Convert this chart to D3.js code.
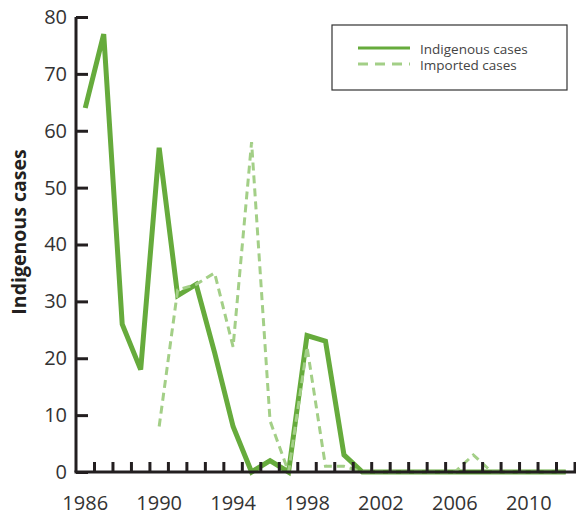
<!DOCTYPE html>
<html>
<head>
<meta charset="utf-8">
<script src="https://cdn.jsdelivr.net/npm/d3@7"></script>
<style>
  body { margin: 0; background: #fff; }
  text { font-family: 'Open Sans', 'Noto Sans', sans-serif; }
</style>
</head>
<body>
<div id="chart"></div>
<script>
let years = d3.range(1986, 2013);
let yearLabels = [1986, 1990, 1994, 1998, 2002, 2006, 2010];
let yTicks = [0, 10, 20, 30, 40, 50, 60, 70, 80];

// 1986 .. 2012
let indigenous = [64, 77, 26, 18, 57, 31, 33, 21, 8, 0, 2, 0, 24, 23, 3, 0,
  0, 0, 0, 0, 0, 0, 0, 0, 0, 0, 0];
// imported starts in 1990
let importedYears = d3.range(1990, 2013);
let imported = [8, 32, 33, 35, 22, 58, 9, 0, 22, 1, 1, 0,
  0, 0, 0, 0, 0, 3, 0, 0, 0, 0, 0];

let width = 576;
let height = 515;
let margin = {top: 17, right: 1, bottom: 43, left: 76};

let solidColor = '#66ab3c';
let dashColor = '#a3cf87';

let svg = d3.select('#chart').append('svg')
    .attr('width', width)
    .attr('height', height);

let x = d3.scaleBand()
    .domain(years)
    .range([margin.left, width - margin.right])
    .padding(0);

let y = d3.scaleLinear()
    .domain([0, 80])
    .range([height - margin.bottom, margin.top]);

let cx = function(yr) { return x(yr) + x.bandwidth() / 2; };

// lines
let line = d3.line()
    .x(function(d) { return cx(d[0]); })
    .y(function(d) { return y(d[1]); });

let indData = years.map(function(yr, i) { return [yr, indigenous[i]]; });
let impData = importedYears.map(function(yr, i) { return [yr, imported[i]]; });

svg.append('path')
    .datum(indData)
    .attr('d', line)
    .attr('fill', 'none')
    .attr('stroke', solidColor)
    .attr('stroke-width', 5)
    .attr('stroke-linejoin', 'miter');

svg.append('path')
    .datum(impData)
    .attr('d', line)
    .attr('fill', 'none')
    .attr('stroke', dashColor)
    .attr('stroke-width', 3)
    .attr('stroke-dasharray', '8,5');

// y axis
let yAxis = svg.append('g')
    .attr('transform', 'translate(' + margin.left + ',0)')
    .call(d3.axisLeft(y).tickValues(yTicks).tickSize(-12).tickPadding(9));
yAxis.select('.domain').attr('stroke', '#231f20').attr('stroke-width', 3)
    .attr('d', 'M0,' + y(80) + 'V' + y(0));
yAxis.selectAll('.tick line').attr('stroke', '#231f20').attr('stroke-width', 3);
yAxis.selectAll('.tick text')
    .attr('fill', '#333')
    .style('font-size', '20px');

// x axis: ticks at the category boundaries
let xAxisY = y(0);
let boundaries = years.map(function(yr) { return x(yr) + x.bandwidth(); });

let xg = svg.append('g');
xg.append('line')
    .attr('x1', margin.left - 1.5)
    .attr('x2', width)
    .attr('y1', xAxisY)
    .attr('y2', xAxisY)
    .attr('stroke', '#231f20')
    .attr('stroke-width', 3);
xg.selectAll('.xtick')
  .data(boundaries)
  .enter().append('line')
    .attr('class', 'xtick')
    .attr('x1', function(d) { return d; })
    .attr('x2', function(d) { return d; })
    .attr('y1', xAxisY)
    .attr('y2', xAxisY - 10)
    .attr('stroke', '#231f20')
    .attr('stroke-width', 3);

xg.selectAll('.xlabel')
  .data(yearLabels)
  .enter().append('text')
    .attr('class', 'xlabel')
    .attr('x', function(d) { return cx(d); })
    .attr('y', 510)
    .attr('text-anchor', 'middle')
    .attr('fill', '#333')
    .style('font-size', '20px')
    .text(function(d) { return d; });

// y axis title
svg.append('text')
    .attr('transform', 'translate(26,' + 232 + ') rotate(-90)')
    .attr('text-anchor', 'middle')
    .attr('fill', '#231f20')
    .style('font-size', '19.5px')
    .style('font-weight', 'bold')
    .text('Indigenous cases');

// legend
let legend = svg.append('g');
legend.append('rect')
    .attr('x', 332)
    .attr('y', 25)
    .attr('width', 235)
    .attr('height', 65)
    .attr('fill', '#fff')
    .attr('stroke', '#333')
    .attr('stroke-width', 1.2);

let legendItems = [
  {label: 'Indigenous cases', color: solidColor, dash: null},
  {label: 'Imported cases', color: dashColor, dash: '10,7'}
];

legendItems.forEach(function(item, i) {
  let ly = 48 + i * 16;
  legend.append('line')
      .attr('x1', 358)
      .attr('x2', 410)
      .attr('y1', ly)
      .attr('y2', ly)
      .attr('stroke', item.color)
      .attr('stroke-width', 3)
      .attr('stroke-dasharray', item.dash);
  legend.append('text')
      .attr('x', 420)
      .attr('y', ly + 5.5)
      .attr('fill', '#444')
      .style('font-size', '13.5px')
      .text(item.label);
});
</script>
</body>
</html>
